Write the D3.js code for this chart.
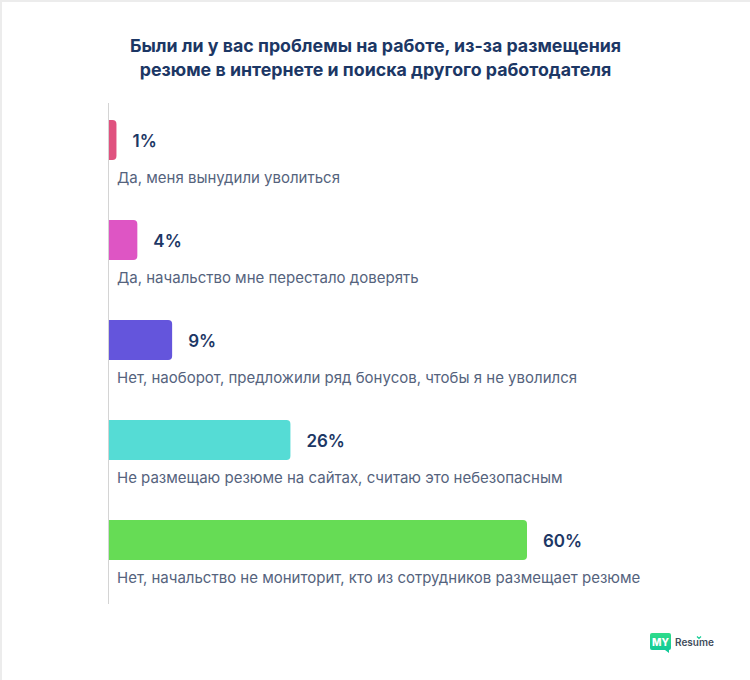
<!DOCTYPE html>
<html><head><meta charset="utf-8">
<script src="https://cdn.jsdelivr.net/npm/d3@7"></script>
<style>html,body{margin:0;padding:0;background:#fff}svg{display:block}text{font-family:Inter,sans-serif}</style>
</head><body><div id="c"></div>
<script>
const categories=["Да, меня вынудили уволиться","Да, начальство мне перестало доверять","Нет, наоборот, предложили ряд бонусов, чтобы я не уволился","Не размещаю резюме на сайтах, считаю это небезопасным","Нет, начальство не мониторит, кто из сотрудников размещает резюме"];
const values=[1,4,9,26,60];
const colors=["#e0527f","#de55c4","#6455dc","#55dcd5","#66dc55"];
const titleLines=["Были ли у вас проблемы на работе, из-за размещения","резюме в интернете и поиска другого работодателя"];
const W=750,H=680;
const svg=d3.select("#c").append("svg").attr("width",W).attr("height",H);
svg.append("rect").attr("x",0).attr("y",0).attr("width",W).attr("height",2).attr("fill","#ececec");
svg.append("rect").attr("x",0).attr("y",0).attr("width",2).attr("height",H).attr("fill","#ececec");
const x=d3.scaleLinear().domain([0,60]).range([109.5,527]);
const y=d3.scaleBand().domain(categories).range([120,620]).paddingInner(0).paddingOuter(0);
const bh=40;
svg.selectAll(".t").data(titleLines).join("text").attr("x",375.5).attr("y",(d,i)=>51.5+i*24)
 .attr("text-anchor","middle").attr("font-size",17.8).attr("font-weight",700).attr("fill","#1c3765").text(d=>d);
svg.append("line").attr("x1",108.5).attr("x2",108.5).attr("y1",103).attr("y2",604).attr("stroke","#d4d4d4").attr("stroke-width",1);
const g=svg.selectAll(".row").data(categories).join("g").attr("transform",d=>`translate(0,${y(d)})`);
g.append("path").attr("fill",(d,i)=>colors[i]).attr("d",(d,i)=>{
 const x0=x(0)-0.5,x1=x(values[i]),r=4;
 return `M${x0},0H${x1-r}Q${x1},0 ${x1},${r}V${bh-r}Q${x1},${bh} ${x1-r},${bh}H${x0}Z`;});
g.append("text").attr("x",(d,i)=>x(values[i])+16).attr("y",27).attr("font-size",17).attr("font-weight",600).attr("fill","#1c3765").text((d,i)=>values[i]+"%");
g.append("text").attr("x",117).attr("y",63).attr("font-size",15).attr("fill","#55637d").text(d=>d);
// logo
const logo=svg.append("g").attr("transform","translate(650,633)");
const grad=svg.append("defs").append("linearGradient").attr("id","lg").attr("x1",0).attr("y1",0).attr("x2",0).attr("y2",1);
grad.append("stop").attr("offset",0).attr("stop-color","#2fdc8a");
grad.append("stop").attr("offset",1).attr("stop-color","#0fc79a");
logo.append("path").attr("fill","url(#lg)").attr("d","M2,0H19Q21,0 21,2V15Q21,17 19,17H19V20L15,17H2Q0,17 0,15V2Q0,0 2,0Z");
logo.append("text").attr("x",10.5).attr("y",13).attr("text-anchor","middle").attr("font-size",10).attr("font-weight",800).attr("fill","#fff").text("MY");
logo.append("text").attr("x",25).attr("y",13).attr("font-size",10).attr("font-weight",600).attr("fill","#3f4d5c").text("Resume");
logo.append("path").attr("d","M47,3.5L49,5.5L51,3.5").attr("fill","none").attr("stroke","#14cc94").attr("stroke-width",1.2);
</script></body></html>
